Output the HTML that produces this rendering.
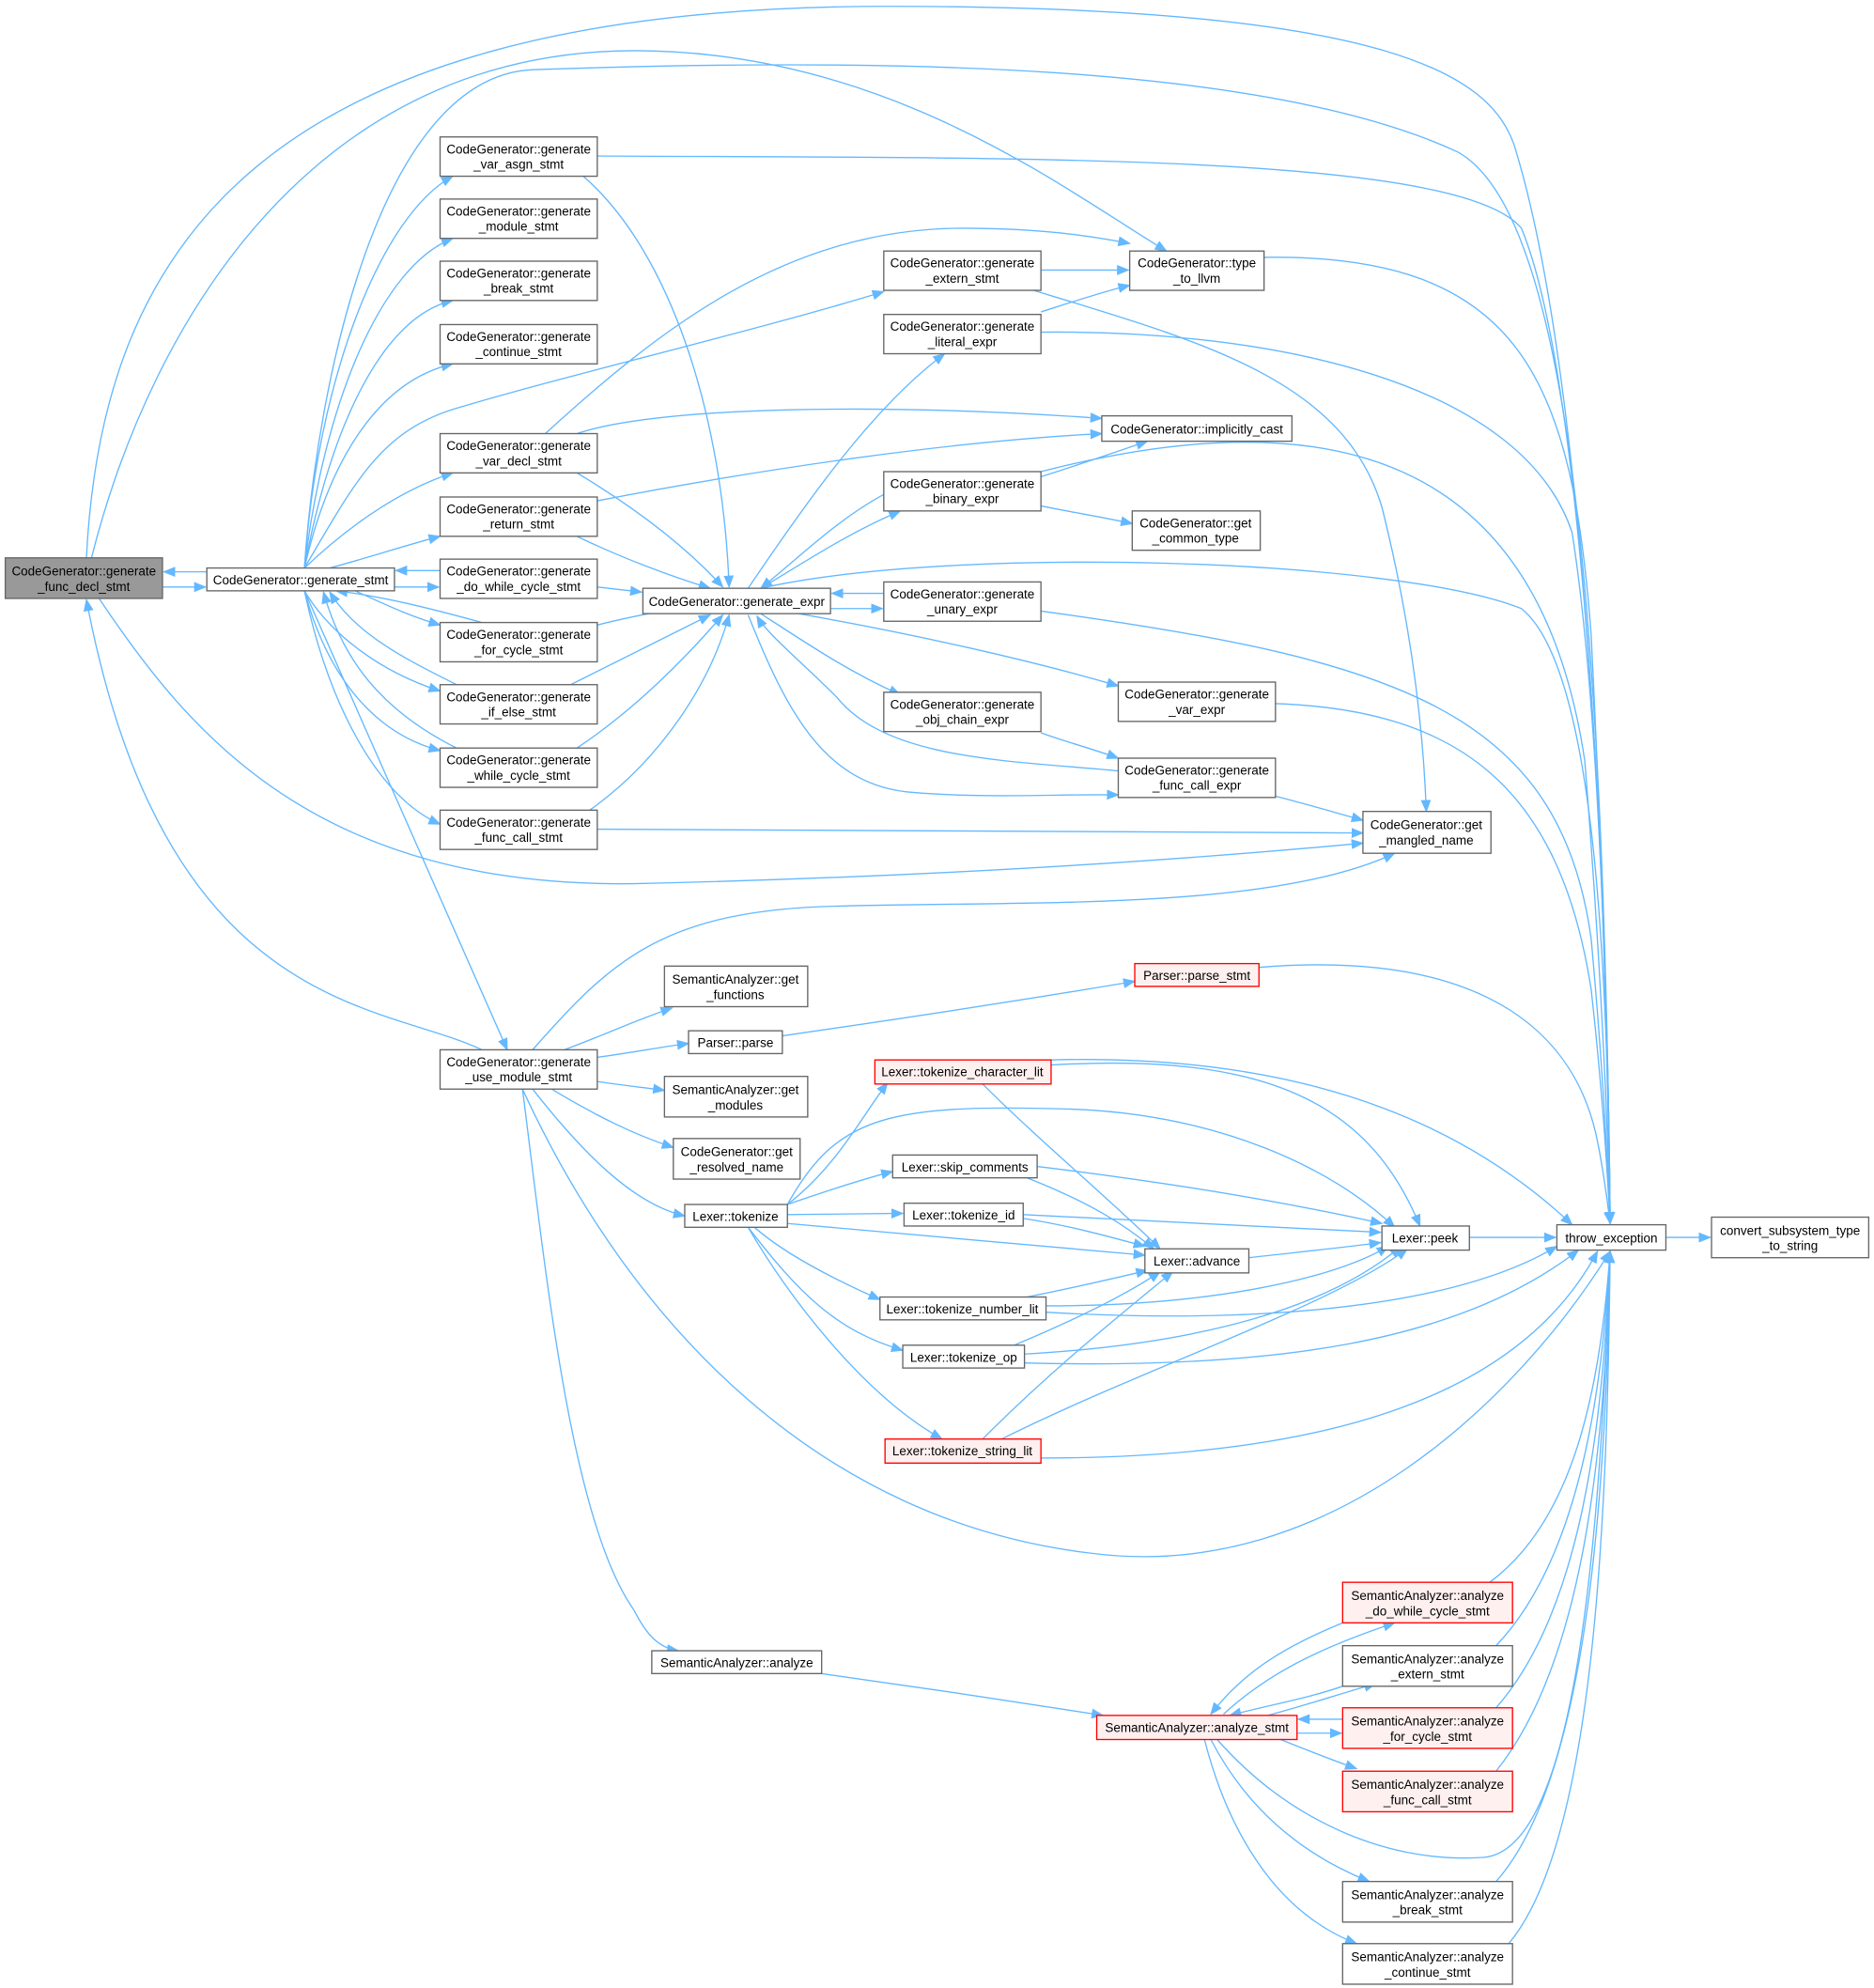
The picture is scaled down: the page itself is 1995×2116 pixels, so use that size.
<!DOCTYPE html>
<html><head><meta charset="utf-8"><style>
html,body{margin:0;padding:0;background:#fff}
svg{display:block}
text{font-family:"Liberation Sans",sans-serif;font-size:10px;fill:#000}
.b{fill:#fff;stroke:#666;stroke-width:1}
.g{fill:#999;stroke:#666;stroke-width:1}
.r{fill:#fff0f0;stroke:#ff0000;stroke-width:1}
.e{fill:none;stroke:#63b8ff;stroke-width:1;marker-end:url(#a)}
</style></head><body>
<svg width="1995" height="2116" viewBox="0 0 1478 1568" xmlns="http://www.w3.org/2000/svg">
<defs><marker id="a" markerWidth="10" markerHeight="8" refX="9" refY="4" orient="auto" markerUnits="userSpaceOnUse"><path d="M0,0 L10,4 L0,8 z" fill="#63b8ff"/></marker></defs>
<g>
<path class="e" d="M128,463 L162,463"/>
<path class="e" d="M163,451 L129,451"/>
<path class="e" d="M68,440 C80,200 200,5 700,5 C1100,5 1180,60 1196,120 C1250,300 1268,700 1270,965"/>
<path class="e" d="M72,440 C120,250 250,40 500,40 C700,40 840,150 920,198"/>
<path class="e" d="M78,472 C150,580 250,700 500,697 C800,690 1000,672 1075,665"/>
<path class="e" d="M380,828 C300,790 130,800 68,473"/>
<path class="e" d="M240,448 C250,300 300,170 357,139"/>
<path class="e" d="M240,448 C255,320 300,210 357,188"/>
<path class="e" d="M240,448 C260,340 300,250 357,237"/>
<path class="e" d="M240,448 C260,360 300,300 357,287"/>
<path class="e" d="M240,448 C280,410 320,385 357,373"/>
<path class="e" d="M260,448 C290,440 320,430 347,423"/>
<path class="e" d="M311,463 L346,463"/>
<path class="e" d="M347,450 L312,450"/>
<path class="e" d="M280,466 C300,475 320,485 347,493"/>
<path class="e" d="M380,491 C340,480 300,470 265,466"/>
<path class="e" d="M240,466 C260,500 300,530 347,545"/>
<path class="e" d="M360,540 C320,520 280,500 260,467"/>
<path class="e" d="M240,466 C260,540 300,580 347,592"/>
<path class="e" d="M360,590 C300,560 270,520 255,467"/>
<path class="e" d="M240,466 C260,560 300,630 347,650"/>
<path class="e" d="M240,466 L400,828"/>
<path class="e" d="M240,448 C280,380 300,340 360,322 C450,295 600,260 697,230"/>
<path class="e" d="M240,448 C250,300 300,60 420,55 C700,45 1000,50 1150,120 C1240,170 1265,500 1270,965"/>
<path class="e" d="M460,139 C530,200 570,330 575,463"/>
<path class="e" d="M471,123 C800,125 1150,120 1200,180 C1250,300 1268,700 1270,965"/>
<path class="e" d="M455,373 C500,400 540,430 570,463"/>
<path class="e" d="M455,423 C490,440 530,455 560,464"/>
<path class="e" d="M471,463 L506,467"/>
<path class="e" d="M471,493 C490,488 520,482 545,478"/>
<path class="e" d="M450,540 C490,520 530,500 560,485"/>
<path class="e" d="M455,590 C500,560 540,520 570,485"/>
<path class="e" d="M465,639 C520,600 560,540 575,485"/>
<path class="e" d="M455,342 C520,320 700,318 869,330"/>
<path class="e" d="M430,342 C520,260 620,180 760,180 C820,180 860,186 891,192"/>
<path class="e" d="M471,395 C600,370 750,348 869,342"/>
<path class="e" d="M471,654 L1075,657"/>
<path class="e" d="M590,464 C640,390 690,320 745,279"/>
<path class="e" d="M600,464 C640,440 670,420 710,403"/>
<path class="e" d="M697,390 C660,410 630,440 600,464"/>
<path class="e" d="M655,480 L696,480"/>
<path class="e" d="M697,468 L656,468"/>
<path class="e" d="M600,484 C640,510 670,530 710,548"/>
<path class="e" d="M630,484 C720,500 810,520 882,541"/>
<path class="e" d="M590,485 C620,560 650,620 720,625 C780,630 840,626 882,627"/>
<path class="e" d="M882,608 C800,600 700,600 660,550 C630,520 605,500 597,486"/>
<path class="e" d="M600,464 C750,430 1100,440 1200,480 C1250,520 1268,700 1270,965"/>
<path class="e" d="M821,213 L890,213"/>
<path class="e" d="M821,246 C840,240 870,230 891,225"/>
<path class="e" d="M815,229 C950,270 1060,300 1090,400 C1110,480 1122,560 1125,640"/>
<path class="e" d="M821,262 C1000,260 1200,300 1240,420 C1262,560 1268,800 1270,965"/>
<path class="e" d="M997,203 C1200,200 1240,300 1255,500 C1265,700 1268,850 1270,965"/>
<path class="e" d="M821,376 C840,370 870,360 905,348"/>
<path class="e" d="M821,399 C840,403 870,408 893,413"/>
<path class="e" d="M821,372 C1100,300 1220,400 1250,600 C1262,750 1268,880 1270,965"/>
<path class="e" d="M821,482 C1100,520 1230,560 1255,740 C1265,850 1268,920 1270,965"/>
<path class="e" d="M1006,555 C1150,560 1230,620 1255,780 C1265,870 1268,930 1270,965"/>
<path class="e" d="M821,578 C840,585 860,590 882,598"/>
<path class="e" d="M1006,628 C1030,634 1050,640 1075,647"/>
<path class="e" d="M420,828 C480,760 520,720 650,715 C800,710 1000,720 1100,673"/>
<path class="e" d="M445,828 C480,815 500,805 530,795"/>
<path class="e" d="M471,834 C500,830 520,826 543,823"/>
<path class="e" d="M471,853 C490,856 510,858 524,860"/>
<path class="e" d="M435,859 C470,880 500,895 531,905"/>
<path class="e" d="M420,859 C460,910 500,950 540,959"/>
<path class="e" d="M412,859 C500,1050 650,1200 860,1225 C1050,1250 1200,1100 1270,987"/>
<path class="e" d="M412,859 C430,1000 450,1200 500,1270 C510,1290 520,1300 535,1302"/>
<path class="e" d="M617,817 C700,805 800,790 895,774"/>
<path class="e" d="M993,763 C1150,750 1240,800 1260,900 C1266,930 1268,950 1270,965"/>
<path class="e" d="M621,950 C660,920 680,880 700,854"/>
<path class="e" d="M621,950 C650,940 680,930 704,924"/>
<path class="e" d="M621,958 L712,957"/>
<path class="e" d="M621,965 L903,990"/>
<path class="e" d="M595,968 C620,990 660,1010 694,1025"/>
<path class="e" d="M590,968 C630,1020 660,1050 712,1065"/>
<path class="e" d="M590,968 C620,1020 680,1100 743,1135"/>
<path class="e" d="M621,950 C660,880 700,870 850,875 C960,880 1050,920 1100,968"/>
<path class="e" d="M775,855 C820,900 880,950 915,985"/>
<path class="e" d="M829,840 C1000,830 1080,870 1120,967"/>
<path class="e" d="M829,836 C1050,830 1170,900 1240,966"/>
<path class="e" d="M810,929 C850,945 880,960 910,985"/>
<path class="e" d="M818,920 C900,930 1000,945 1090,965"/>
<path class="e" d="M807,961 C840,966 870,974 903,983"/>
<path class="e" d="M807,958 L1089,972"/>
<path class="e" d="M810,1023 C850,1015 880,1008 905,1002"/>
<path class="e" d="M825,1030 C950,1030 1050,1010 1095,983"/>
<path class="e" d="M825,1035 C1000,1045 1150,1030 1228,983"/>
<path class="e" d="M800,1061 C850,1040 890,1020 915,1003"/>
<path class="e" d="M808,1068 C950,1060 1050,1030 1105,983"/>
<path class="e" d="M808,1075 C1000,1080 1150,1060 1245,986"/>
<path class="e" d="M775,1135 C830,1080 880,1040 925,1003"/>
<path class="e" d="M790,1135 C900,1080 1050,1030 1110,985"/>
<path class="e" d="M821,1150 C1050,1150 1200,1100 1260,987"/>
<path class="e" d="M985,992 C1020,988 1060,984 1089,980"/>
<path class="e" d="M1159,976 L1227,976"/>
<path class="e" d="M1314,976 L1349,976"/>
<path class="e" d="M648,1320 C720,1330 800,1342 870,1353"/>
<path class="e" d="M1059,1280 C1010,1300 980,1320 955,1352"/>
<path class="e" d="M965,1352 C1000,1320 1040,1300 1100,1280"/>
<path class="e" d="M1059,1330 C1030,1340 1000,1345 970,1353"/>
<path class="e" d="M1000,1353 C1030,1345 1060,1335 1085,1328"/>
<path class="e" d="M1059,1356 L1024,1356"/>
<path class="e" d="M1023,1367 L1058,1367"/>
<path class="e" d="M1010,1372 C1030,1380 1050,1388 1070,1395"/>
<path class="e" d="M955,1372 C980,1420 1020,1460 1080,1484"/>
<path class="e" d="M950,1372 C970,1450 1010,1510 1070,1533"/>
<path class="e" d="M960,1372 C1020,1440 1100,1470 1170,1465 C1230,1460 1260,1300 1270,987"/>
<path class="e" d="M1175,1248 C1240,1200 1262,1100 1270,987"/>
<path class="e" d="M1180,1298 C1245,1230 1264,1100 1270,987"/>
<path class="e" d="M1180,1347 C1248,1270 1265,1120 1270,987"/>
<path class="e" d="M1180,1397 C1250,1310 1266,1140 1270,987"/>
<path class="e" d="M1180,1484 C1255,1400 1267,1160 1270,987"/>
<path class="e" d="M1190,1533 C1260,1450 1268,1180 1270,987"/>
</g>
<g text-anchor="middle">
<rect class="g" x="4" y="440" width="124" height="32"/><text x="66" y="454">CodeGenerator::generate</text><text x="66" y="466">_func_decl_stmt</text>
<rect class="b" x="163" y="448" width="148" height="18"/><text x="237" y="461">CodeGenerator::generate_stmt</text>
<rect class="b" x="347" y="108" width="124" height="31"/><text x="409" y="121">CodeGenerator::generate</text><text x="409" y="133">_var_asgn_stmt</text>
<rect class="b" x="347" y="157" width="124" height="31"/><text x="409" y="170">CodeGenerator::generate</text><text x="409" y="182">_module_stmt</text>
<rect class="b" x="347" y="206" width="124" height="31"/><text x="409" y="219">CodeGenerator::generate</text><text x="409" y="231">_break_stmt</text>
<rect class="b" x="347" y="256" width="124" height="31"/><text x="409" y="269">CodeGenerator::generate</text><text x="409" y="281">_continue_stmt</text>
<rect class="b" x="347" y="342" width="124" height="31"/><text x="409" y="355">CodeGenerator::generate</text><text x="409" y="367">_var_decl_stmt</text>
<rect class="b" x="347" y="392" width="124" height="31"/><text x="409" y="405">CodeGenerator::generate</text><text x="409" y="417">_return_stmt</text>
<rect class="b" x="347" y="441" width="124" height="31"/><text x="409" y="454">CodeGenerator::generate</text><text x="409" y="466">_do_while_cycle_stmt</text>
<rect class="b" x="347" y="491" width="124" height="31"/><text x="409" y="504">CodeGenerator::generate</text><text x="409" y="516">_for_cycle_stmt</text>
<rect class="b" x="347" y="540" width="124" height="31"/><text x="409" y="553">CodeGenerator::generate</text><text x="409" y="565">_if_else_stmt</text>
<rect class="b" x="347" y="590" width="124" height="31"/><text x="409" y="603">CodeGenerator::generate</text><text x="409" y="615">_while_cycle_stmt</text>
<rect class="b" x="347" y="639" width="124" height="31"/><text x="409" y="652">CodeGenerator::generate</text><text x="409" y="664">_func_call_stmt</text>
<rect class="b" x="507" y="464" width="148" height="20"/><text x="581" y="478">CodeGenerator::generate_expr</text>
<rect class="b" x="697" y="198" width="124" height="31"/><text x="759" y="211">CodeGenerator::generate</text><text x="759" y="223">_extern_stmt</text>
<rect class="b" x="697" y="248" width="124" height="31"/><text x="759" y="261">CodeGenerator::generate</text><text x="759" y="273">_literal_expr</text>
<rect class="b" x="697" y="372" width="124" height="31"/><text x="759" y="385">CodeGenerator::generate</text><text x="759" y="397">_binary_expr</text>
<rect class="b" x="697" y="459" width="124" height="31"/><text x="759" y="472">CodeGenerator::generate</text><text x="759" y="484">_unary_expr</text>
<rect class="b" x="697" y="546" width="124" height="31"/><text x="759" y="559">CodeGenerator::generate</text><text x="759" y="571">_obj_chain_expr</text>
<rect class="b" x="891" y="198" width="106" height="31"/><text x="944" y="211">CodeGenerator::type</text><text x="944" y="223">_to_llvm</text>
<rect class="b" x="869" y="328" width="150" height="20"/><text x="944" y="342">CodeGenerator::implicitly_cast</text>
<rect class="b" x="893" y="403" width="101" height="31"/><text x="943" y="416">CodeGenerator::get</text><text x="943" y="428">_common_type</text>
<rect class="b" x="882" y="538" width="124" height="31"/><text x="944" y="551">CodeGenerator::generate</text><text x="944" y="563">_var_expr</text>
<rect class="b" x="882" y="598" width="124" height="31"/><text x="944" y="611">CodeGenerator::generate</text><text x="944" y="623">_func_call_expr</text>
<rect class="b" x="1075" y="640" width="101" height="33"/><text x="1125" y="654">CodeGenerator::get</text><text x="1125" y="666">_mangled_name</text>
<rect class="b" x="347" y="828" width="124" height="31"/><text x="409" y="841">CodeGenerator::generate</text><text x="409" y="853">_use_module_stmt</text>
<rect class="b" x="524" y="762" width="113" height="32"/><text x="580" y="776">SemanticAnalyzer::get</text><text x="580" y="788">_functions</text>
<rect class="b" x="543" y="813" width="74" height="18"/><text x="580" y="826">Parser::parse</text>
<rect class="b" x="524" y="849" width="113" height="32"/><text x="580" y="863">SemanticAnalyzer::get</text><text x="580" y="875">_modules</text>
<rect class="b" x="531" y="898" width="100" height="32"/><text x="581" y="912">CodeGenerator::get</text><text x="581" y="924">_resolved_name</text>
<rect class="b" x="540" y="950" width="81" height="18"/><text x="580" y="963">Lexer::tokenize</text>
<rect class="r" x="895" y="760" width="98" height="18"/><text x="944" y="773">Parser::parse_stmt</text>
<rect class="r" x="690" y="836" width="139" height="19"/><text x="759" y="849">Lexer::tokenize_character_lit</text>
<rect class="b" x="704" y="911" width="114" height="18"/><text x="761" y="924">Lexer::skip_comments</text>
<rect class="b" x="713" y="949" width="94" height="18"/><text x="760" y="962">Lexer::tokenize_id</text>
<rect class="b" x="694" y="1023" width="131" height="18"/><text x="759" y="1036">Lexer::tokenize_number_lit</text>
<rect class="b" x="712" y="1061" width="96" height="18"/><text x="760" y="1074">Lexer::tokenize_op</text>
<rect class="r" x="698" y="1135" width="123" height="19"/><text x="759" y="1148">Lexer::tokenize_string_lit</text>
<rect class="b" x="903" y="985" width="82" height="19"/><text x="944" y="998">Lexer::advance</text>
<rect class="b" x="1090" y="967" width="69" height="19"/><text x="1124" y="980">Lexer::peek</text>
<rect class="b" x="1228" y="966" width="86" height="20"/><text x="1271" y="980">throw_exception</text>
<rect class="b" x="1350" y="960" width="124" height="32"/><text x="1412" y="974">convert_subsystem_type</text><text x="1412" y="986">_to_string</text>
<rect class="b" x="514" y="1302" width="134" height="18"/><text x="581" y="1315">SemanticAnalyzer::analyze</text>
<rect class="r" x="865" y="1353" width="158" height="19"/><text x="944" y="1366">SemanticAnalyzer::analyze_stmt</text>
<rect class="r" x="1059" y="1248" width="134" height="32"/><text x="1126" y="1262">SemanticAnalyzer::analyze</text><text x="1126" y="1274">_do_while_cycle_stmt</text>
<rect class="b" x="1059" y="1298" width="134" height="32"/><text x="1126" y="1312">SemanticAnalyzer::analyze</text><text x="1126" y="1324">_extern_stmt</text>
<rect class="r" x="1059" y="1347" width="134" height="32"/><text x="1126" y="1361">SemanticAnalyzer::analyze</text><text x="1126" y="1373">_for_cycle_stmt</text>
<rect class="r" x="1059" y="1397" width="134" height="32"/><text x="1126" y="1411">SemanticAnalyzer::analyze</text><text x="1126" y="1423">_func_call_stmt</text>
<rect class="b" x="1059" y="1484" width="134" height="32"/><text x="1126" y="1498">SemanticAnalyzer::analyze</text><text x="1126" y="1510">_break_stmt</text>
<rect class="b" x="1059" y="1533" width="134" height="32"/><text x="1126" y="1547">SemanticAnalyzer::analyze</text><text x="1126" y="1559">_continue_stmt</text>
</g>
</svg>
</body></html>
